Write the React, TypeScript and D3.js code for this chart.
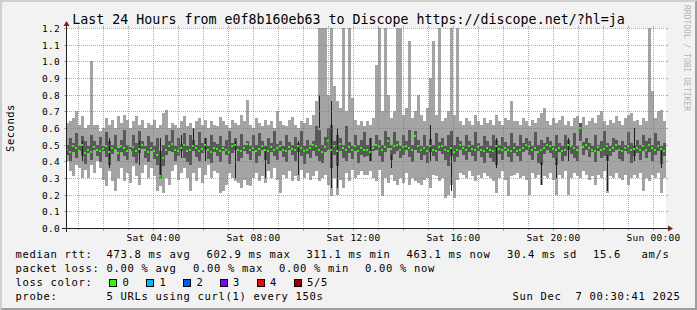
import React from 'react';
import * as d3 from 'd3';

// ---------- data (ms) ----------
const hi = [
  630,640,660,700,620,670,600,620,1000,620, 620,580,600,660,620,650,600,670,630,680,
  650,600,640,670,620,650,600,630,620,650, 600,620,690,710,600,630,620,600,640,670,
  610,630,600,640,660,620,650,600,640,620,
  610,665,640,620,600,650,630,620,680,640, 770,620,600,660,630,610,650,620,640,600,
  700,640,620,610,650,665,620,600,640,630, 660,620,680,760,1300,1300,1300,800,1300,850,
  760,720,1300,700,1300,780,650,620,640,610,
  640,620,660,980,1300,700,1300,800,660,700, 1300,1300,680,720,1120,660,700,800,680,640,
  720,900,1120,680,1300,640,660,700,1300,680, 1300,640,620,660,640,620,680,640,620,660,
  630,650,620,680,640,620,660,650,760,640,
  640,620,660,640,610,650,630,660,690,720, 640,620,660,630,650,670,620,640,610,660,
  670,630,665,620,640,660,630,680,700,640, 620,650,630,670,640,620,660,680,690,640,
  650,620,660,640,1300,820,660,700,710,640
];
const lo = [
  400,340,310,380,360,300,350,300,380,330, 400,360,290,250,340,280,220,300,360,280,
  330,270,370,310,260,330,380,300,360,310, 220,250,210,300,260,340,380,290,330,360,
  300,220,330,280,360,270,320,380,300,340,
  330,210,220,260,330,300,280,270,240,290, 260,250,300,330,280,310,270,340,300,360,
  290,210,320,300,340,280,310,280,350,300, 330,290,310,340,280,300,320,260,190,300,
  200,290,240,330,280,350,300,320,340,320,
  320,340,300,280,350,190,300,270,320,280, 260,300,270,330,260,300,280,270,260,290,
  300,240,320,310,280,300,180,200,260,180, 290,330,320,300,340,310,280,320,300,330,
  310,300,280,210,300,340,290,190,310,320,
  330,300,310,290,200,330,300,320,260,310, 300,330,290,200,320,300,340,200,300,330,
  310,300,340,320,290,310,260,320,300,340, 210,310,300,330,300,290,320,260,300,320,
  300,330,220,300,280,320,300,330,210,300
];
const ilo = [
  440,400,455,420,465,430,385,450,410,470, 435,395,460,425,380,445,470,400,455,430,
  410,465,425,390,450,475,420,395,460,415, 380,300,370,440,465,455,400,430,460,420,
  395,380,465,425,400,450,470,415,390,455,
  430,395,460,440,385,450,470,400,420,465, 445,410,460,390,435,470,405,385,455,430,
  410,460,425,395,470,440,400,455,430,385, 445,420,465,430,400,390,455,470,360,440,
  370,460,420,400,450,415,465,390,440,425,
  435,400,460,470,430,395,455,480,410,445, 465,420,440,470,425,395,470,450,410,440,
  390,455,430,400,460,445,410,370,435,395, 425,470,440,405,455,430,400,460,425,390,
  450,420,395,380,445,410,460,425,395,450,
  430,400,455,470,440,410,465,390,380,445, 470,450,420,380,455,400,430,470,445,420,
  400,520,440,470,425,455,395,460,420,435, 400,430,455,470,415,400,460,445,390,430,
  450,405,460,420,455,400,440,465,385,430
];
const ihi = [
  500,540,510,570,495,550,520,490,560,520, 500,545,495,575,520,500,560,480,530,590,
  500,485,560,510,580,525,490,550,515,495, 540,460,500,560,520,590,495,540,505,570,
  490,560,530,500,575,510,540,490,560,515,
  505,550,495,530,580,510,540,495,565,500, 525,490,555,500,570,520,495,540,510,585,
  505,520,490,560,515,500,545,510,580,495, 530,500,520,610,590,500,545,600,620,520,
  560,540,500,610,515,495,560,500,530,575,
  500,540,490,560,530,500,580,545,500,575, 525,495,560,520,590,500,580,530,495,560,
  490,535,500,570,515,540,495,560,580,500, 545,525,495,560,520,500,575,510,495,550,
  520,495,560,530,500,545,515,495,570,510,
  495,560,510,540,520,490,575,500,530,510, 545,520,495,560,510,490,555,530,500,570,
  495,630,515,540,510,495,560,500,525,580, 510,495,540,530,500,520,500,575,510,495,
  530,500,560,520,540,500,570,520,495,510
];
const med = [
  470,455,490,480,465,500,450,470,455,485, 470,460,475,490,455,480,470,450,495,480,
  465,470,485,460,475,500,470,455,480,465, 440,311,420,470,490,505,470,460,480,500,
  465,470,490,480,460,475,500,470,455,480,
  475,460,480,470,455,490,500,470,465,480, 505,470,480,460,475,490,470,460,485,470,
  480,495,470,460,485,475,470,490,480,460, 470,480,500,490,470,455,485,520,470,490,
  460,505,480,470,485,470,490,460,480,470,
  470,455,480,500,490,470,485,520,475,490, 500,470,485,495,480,470,550,490,470,480,
  460,490,470,465,485,490,470,460,480,455, 470,500,480,470,490,475,470,485,470,460,
  480,470,460,490,475,470,480,470,460,480,
  465,470,480,500,490,470,480,455,470,480, 500,490,475,470,480,465,470,500,490,480,
  470,603,485,500,480,470,460,485,470,475, 490,470,480,500,470,465,480,490,470,475,
  480,470,490,470,500,480,470,490,475,463
];
// near-black streaks: column index, low, high (ms)
const darkCol = [5, 14, 24, 31, 38, 42, 46, 56, 66, 77, 84, 88, 90, 101, 108, 121, 128, 143, 158, 163, 167, 180, 189, 198];
const darkLo  = [400, 360, 380, 310, 420, 480, 400, 300, 300, 320, 600, 240, 240, 400, 360, 400, 220, 360, 260, 300, 400, 220, 400, 360];
const darkHi  = [520, 540, 520, 540, 560, 600, 540, 520, 480, 520, 800, 760, 600, 540, 440, 620, 500, 540, 400, 420, 540, 440, 600, 480];

const yTickLabels = ['0.0','0.1','0.2','0.3','0.4','0.5','0.6','0.7','0.8','0.9','1.0','1.1','1.2'];
const title = 'Last 24 Hours from e0f8b160eb63 to Discope https://discope.net/?hl=ja';
const rttStats = ['473.8 ms avg', '602.9 ms max', '311.1 ms min', '463.1 ms now', '30.4 ms sd', '15.6', 'am/s'];
const lossStats = ['0.00 % avg', '0.00 % max', '0.00 % min', '0.00 % now'];
const lossColors = ['#26ff00', '#00b8ff', '#0059ff', '#7e00ff', '#ff0000', '#a10000'];
const lossLabels = ['0', '1', '2', '3', '4', '5/5'];
const probeText = '5 URLs using curl(1) every 150s';
const dateText = 'Sun Dec  7 00:30:41 2025';

const END = new Date(2025, 11, 7, 0, 30, 41);
const START = new Date(END.getTime() - 24 * 3600 * 1000);

const W = 697, H = 310;
const X0 = 66, X1 = 666, Y0 = 228, Y1 = 28;
const MONO = '"DejaVu Sans Mono", monospace';

export default function App() {
  const x = d3.scaleTime().domain([START, END]).range([X0, X1]);
  const y = d3.scaleLinear().domain([0, 1.2]).range([Y0, Y1]);
  const n = Math.min(hi.length, lo.length, ilo.length, ihi.length, med.length);
  const step = (END.getTime() - START.getTime()) / n;
  const cx = (i: number) => Math.round(x(new Date(START.getTime() + i * step)));
  const py = (ms: number) => Math.round(y(ms / 1000));

  const hours = d3.timeHour.range(new Date(START.getTime() + 1), END);
  const fmt = d3.timeFormat('%a %H:%M');
  const gridCol = 'rgba(143,143,143,0.75)';
  const mgridCol = 'rgba(222,80,80,0.6)';

  const legendY = [257.5, 271.5, 285.5, 299.5];
  const rttX = [106.5, 206.5, 306.5, 406.5, 507, 593, 641.5];
  const lossX = [106.5, 193, 279, 365];
  const boxX = [109, 146, 183, 219.5, 256.5, 293.5];
  const legStyle: React.CSSProperties = { fontFamily: MONO, fontSize: 10.5, letterSpacing: 0.68, whiteSpace: 'pre' };

  return (
    <svg width={W} height={H} style={{ position: 'absolute', left: 0, top: 0, display: 'block' }}>
      <defs>
        <clipPath id="plot"><rect x={X0} y={Y1} width={X1 - X0} height={Y0 - Y1} /></clipPath>
      </defs>
      <rect x={0} y={0} width={W} height={H} fill="#f2f2f2" />
      <polygon points={`0,${H} 2,${H - 2} 2,2 ${W - 2},2 ${W},0 0,0`} fill="#cfcfcf" />
      <polygon points={`2,${H - 2} ${W - 2},${H - 2} ${W - 2},2 ${W},0 ${W},${H} 0,${H}`} fill="#9e9e9e" />
      <rect x={X0} y={Y1} width={X1 - X0} height={Y0 - Y1} fill="#ffffff" />

      <g clipPath="url(#plot)" shapeRendering="crispEdges">
        {d3.range(n).map(i => (
          <rect key={'o' + i} x={cx(i)} width={cx(i + 1) - cx(i)} y={py(hi[i])} height={py(lo[i]) - py(hi[i])} fill="#a4a4a4" />
        ))}
        {d3.range(n).map(i => (
          <rect key={'i' + i} x={cx(i)} width={cx(i + 1) - cx(i)} y={py(ihi[i])} height={py(ilo[i]) - py(ihi[i])} fill="#585858" />
        ))}
        {darkCol.map((c, k) => (
          <rect key={'d' + k} x={cx(c) + 1} width={1} y={py(darkHi[k])} height={py(darkLo[k]) - py(darkHi[k])} fill="#1e1e1e" />
        ))}
        {d3.range(n).map(i => (
          <rect key={'m' + i} x={cx(i)} width={2} y={py(med[i]) - 1} height={2} fill={lossColors[0]} />
        ))}
      </g>

      <g shapeRendering="crispEdges">
        {yTickLabels.map((t, k) => {
          const yy = Math.round(y(+t)) + 0.5;
          return (
            <g key={'yg' + k}>
              <line x1={X0 + 1} x2={X1 - 1} y1={yy} y2={yy} stroke={mgridCol} strokeDasharray="1,1" />
              <line x1={X0 - 2} x2={X0} y1={yy} y2={yy} stroke={mgridCol} />
              <line x1={X1} x2={X1 + 2} y1={yy} y2={yy} stroke={mgridCol} />
            </g>
          );
        })}
        {hours.map((h, k) => {
          const xx = Math.floor(x(h)) + 0.5;
          const major = h.getHours() % 2 === 0;
          const c = major ? mgridCol : gridCol;
          return (
            <g key={'xg' + k}>
              <line x1={xx} x2={xx} y1={Y1 + 1} y2={Y0 - 1} stroke={c} strokeDasharray="1,1" />
              <line x1={xx} x2={xx} y1={Y1 - 2} y2={Y1} stroke={c} />
              <line x1={xx} x2={xx} y1={Y0} y2={Y0 + (major ? 3 : 2)} stroke={c} />
            </g>
          );
        })}
        <line x1={X0 - 4} x2={X1 + 4} y1={Y0 + 0.5} y2={Y0 + 0.5} stroke="#1f1f1f" />
        <line x1={X0 + 0.5} x2={X0 + 0.5} y1={Y0 + 4} y2={Y1 - 4} stroke="#1f1f1f" />
      </g>
      <polygon points={`${X1 + 2},${Y0 - 2.5} ${X1 + 2},${Y0 + 3.5} ${X1 + 7},${Y0 + 0.5}`} fill="#801f1f" />
      <polygon points={`${X0 - 2.5},${Y1 - 2} ${X0 + 3.5},${Y1 - 2} ${X0 + 0.5},${Y1 - 7}`} fill="#801f1f" />

      {yTickLabels.map((t, k) => (
        <text key={'yl' + k} x={60} y={Math.round(y(+t)) + 4} textAnchor="end" style={{ fontFamily: MONO, fontSize: 9.5, letterSpacing: 0.28 }} fill="#000">{t}</text>
      ))}
      {hours.filter(h => h.getHours() % 4 === 0).map((h, k) => (
        <text key={'xl' + k} x={Math.floor(x(h)) + 0.5} y={241} textAnchor="middle" style={{ fontFamily: MONO, fontSize: 9.5, letterSpacing: 0.28 }} fill="#000">{fmt(h)}</text>
      ))}

      <text x={348.5} y={23.5} textAnchor="middle" style={{ fontFamily: MONO, fontSize: 13.3 }} fill="#000">{title}</text>
      <text transform="translate(14,128) rotate(-90)" textAnchor="middle" style={{ fontFamily: MONO, fontSize: 10.5, letterSpacing: 0.5 }} fill="#000">Seconds</text>
      <text transform="translate(684,5) rotate(90)" style={{ fontFamily: MONO, fontSize: 8 }} fill="rgba(0,0,0,0.3)">RRDTOOL / TOBI OETIKER</text>

      <text x={15.5} y={legendY[0]} style={legStyle}>median rtt:</text>
      {rttStats.map((s, k) => <text key={'r' + k} x={rttX[k]} y={legendY[0]} style={legStyle}>{s}</text>)}
      <text x={15.5} y={legendY[1]} style={legStyle}>packet loss:</text>
      {lossStats.map((s, k) => <text key={'l' + k} x={lossX[k]} y={legendY[1]} style={legStyle}>{s}</text>)}
      <text x={15.5} y={legendY[2]} style={legStyle}>loss color:</text>
      {lossColors.map((c, k) => (
        <g key={'b' + k}>
          <rect x={boxX[k] + 0.5} y={279.5} width={7} height={7} fill={c} stroke="#000" shapeRendering="crispEdges" />
          <text x={boxX[k] + 13.5} y={legendY[2]} style={legStyle}>{lossLabels[k]}</text>
        </g>
      ))}
      <text x={15.5} y={legendY[3]} style={legStyle}>probe:</text>
      <text x={106.5} y={legendY[3]} style={legStyle}>{probeText}</text>
      <text x={512.5} y={legendY[3]} style={legStyle}>{dateText}</text>
    </svg>
  );
}
